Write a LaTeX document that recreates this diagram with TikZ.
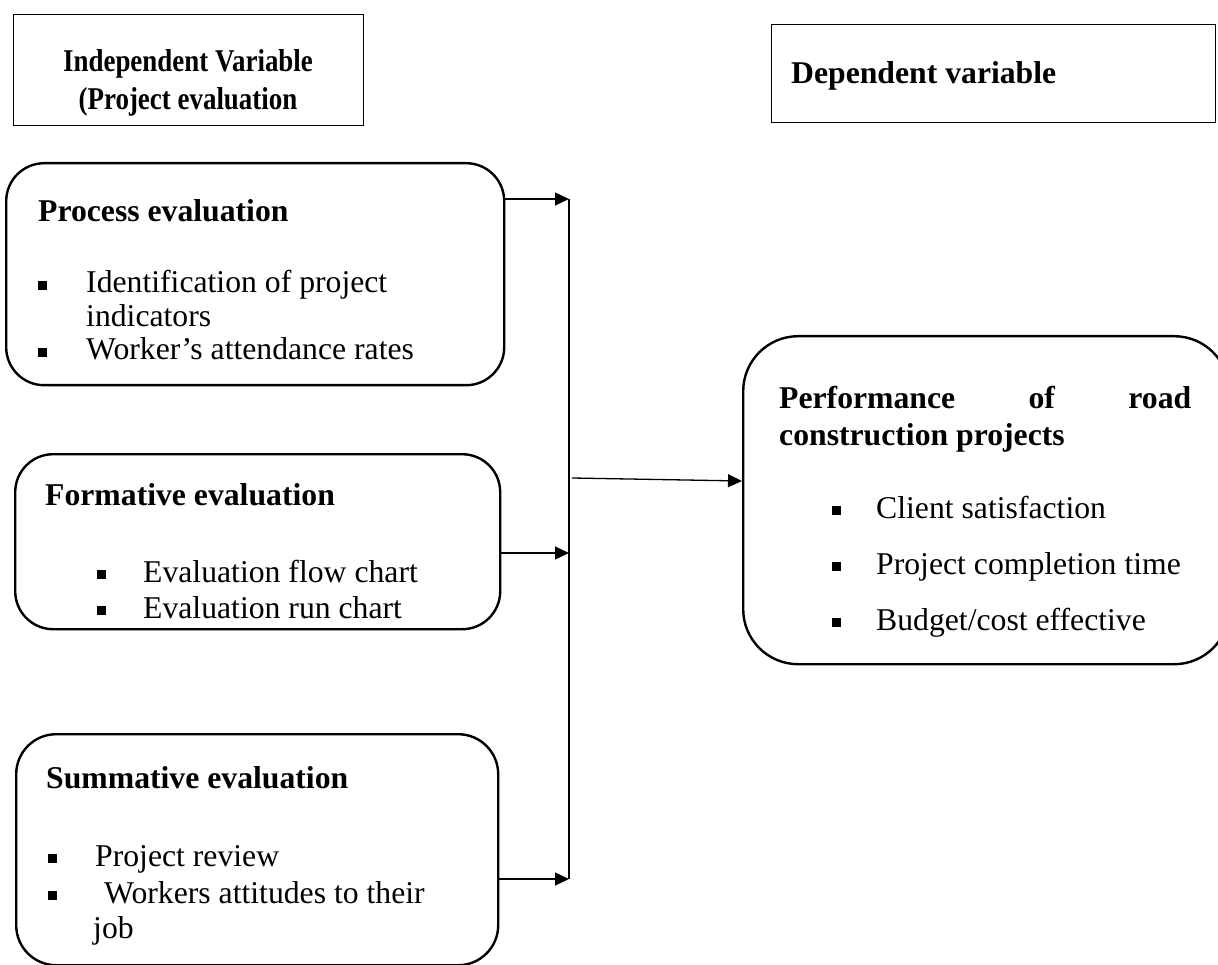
\documentclass[tikz,border=0pt]{standalone}
\usepackage{fontspec}
\setmainfont{Liberation Serif}
\newfontfamily\narrowserif[FakeStretch=0.85]{Liberation Serif}
\usetikzlibrary{arrows.meta}
% square bullet hung to the left of the item text
\newcommand{\sqitem}[2][48pt]{\llap{\makebox[#1][l]{\rule[3pt]{9pt}{9pt}}}#2}

\begin{document}
\begin{tikzpicture}[x=1pt,y=1pt,yscale=-1,xscale=1,
  every node/.style={font=\fontsize{31.7}{36.5}\selectfont,inner sep=0pt},
  box/.style={draw,line width=1.3pt,minimum width=#1,anchor=north west},
  rbox/.style={draw,line width=2.4pt,rounded corners=38pt,anchor=north west},
  txt/.style={anchor=base west},
  head/.style={anchor=base west,font=\fontsize{31.7}{36.5}\selectfont\bfseries},
  vartxt/.style={anchor=base,font=\narrowserif\fontsize{31.7}{36.5}\selectfont\bfseries},
  conn/.style={line width=1.3pt,-{Triangle[length=14pt,width=13pt]}},
  bus/.style={line width=1.3pt}]
\useasboundingbox (0,0) rectangle (1218,965);

%Shape: Rectangle [variables]
\node[box=350pt,minimum height=111pt] (indep) at (13,14) {};
\node[box=444pt,minimum height=98pt] (dep) at (771,24) {};

%Shape: Rounded Rectangle [evaluation boxes]
\node[rbox,minimum width=498pt,minimum height=222pt] (proc) at (5,162) {};
\node[rbox,minimum width=485pt,minimum height=175pt] (form) at (14,453) {};
\node[rbox,minimum width=482pt,minimum height=231pt,rounded corners=40pt] (summ) at (15,733) {};
\node[rbox,minimum width=486pt,minimum height=328pt,rounded corners=55pt] (perf) at (742,335) {};

% Text Node
\node[vartxt] (indep1) at (188,72) {Independent Variable};
\node[vartxt] (indep2) at (188,110) {(Project evaluation};
\node[head] (deptxt) at (791,84) {Dependent variable};

% Text Node
\node[head] (proctxt) at (38,222) {Process evaluation};
\node[txt] (proc1) at (86,293) {\sqitem{Identification of project}};
\node[txt] (proc2) at (86,327) {indicators};
\node[txt] (proc3) at (86,360) {\sqitem{Worker’s attendance rates}};

% Text Node
\node[head] (formtxt) at (45,505) {Formative evaluation};
\node[txt] (form1) at (143,582) {\sqitem[46pt]{Evaluation flow chart}};
\node[txt] (form2) at (143,618) {\sqitem[46pt]{Evaluation run chart}};

% Text Node
\node[head] (summtxt) at (46,788) {Summative evaluation};
\node[txt] (summ1) at (95,866) {\sqitem[47pt]{Project review}};
\node[txt] (summ2) at (104,903) {\sqitem[56pt]{Workers attitudes to their}};
\node[txt] (summ3) at (93,938) {job};

% Text Node
\node[head] (perftxt1) at (779,408) {\hbox to 412pt{Performance\hfill of\hfill road}};
\node[head] (perftxt2) at (779,445) {construction projects};
\node[txt] (perf1) at (876,518) {\sqitem[44pt]{Client satisfaction}};
\node[txt] (perf2) at (876,574) {\sqitem[44pt]{Project completion time}};
\node[txt] (perf3) at (876,630) {\sqitem[44pt]{Budget/cost effective}};

%Straight Lines [bus]
\coordinate (bustop) at (569,199);
\coordinate (busmid) at (569,553);
\coordinate (busbot) at (569,879);
\coordinate (hub) at (572,478);
\draw[bus] (bustop) -- (busbot);
\draw[conn] (proc.east |- bustop) -- (bustop);
\draw[conn] (form.east |- busmid) -- (busmid);
\draw[conn] (summ.east |- busbot) -- (busbot);
\draw[conn] (hub) -- (perf.west |- 0,481);

\end{tikzpicture}
\end{document}
